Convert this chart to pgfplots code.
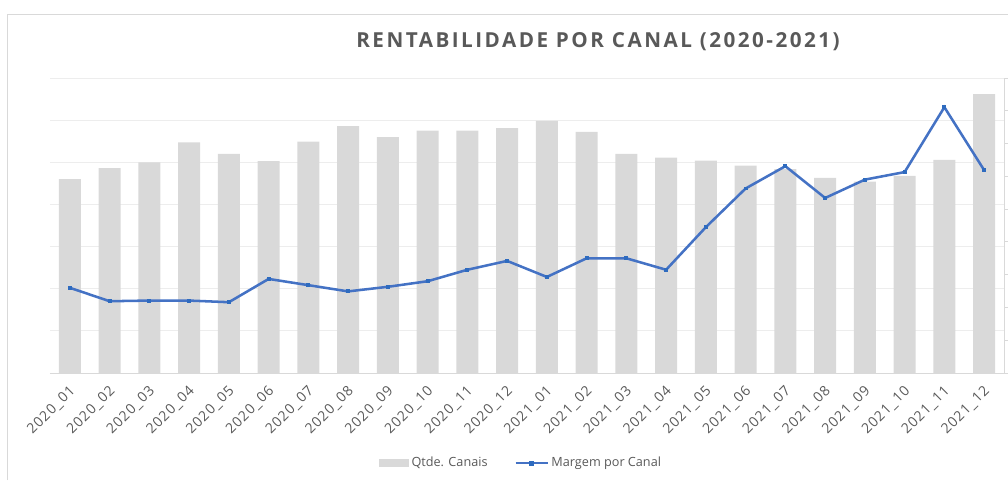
\documentclass[border=0pt]{standalone}
\usepackage{pgfplots}
\pgfplotsset{compat=1.18}
\usepackage{fontspec}
\setmainfont{Open Sans}
\newfontfamily\titlefont[LetterSpace=12]{Open Sans}
\newfontfamily\tickfont[LetterSpace=8]{Open Sans}
\definecolor{barc}{HTML}{D9D9D9}
\definecolor{linec}{HTML}{4472C4}
\definecolor{markc}{HTML}{2E6BBF}
\definecolor{gridc}{HTML}{EDEDED}
\definecolor{txt}{HTML}{595959}
\begin{document}
\begin{tikzpicture}[x=0.75pt,y=0.75pt]
\useasboundingbox (0,0) rectangle (1008,480);
\draw[barc, line width=0.75pt] (7,0) -- (7,466) -- (1008,466);
\coordinate (O) at (50,107);
\node[font=\titlefont\bfseries\fontsize{15.5}{18}\selectfont, text=txt] at (598,438) {RENTABILIDADE POR CANAL (2020-2021)};
\begin{axis}[at={(O)}, anchor=south west, scale only axis,
  width=715.5pt, height=221.25pt,
  xmin=-0.5, xmax=23.5, ymin=0, ymax=70,
  ytick={0,10,...,70}, yticklabels={},
  ymajorgrids, grid style={gridc, line width=0.75pt},
  axis x line*=bottom, axis y line*=left,
  y axis line style={draw=none}, ytick style={draw=none},
  x axis line style={barc, line width=0.75pt, -},
  xtick={0,...,23}, xtick style={draw=none},
  xticklabels={2020\_01,2020\_02,2020\_03,2020\_04,2020\_05,2020\_06,2020\_07,2020\_08,2020\_09,2020\_10,2020\_11,2020\_12,2021\_01,2021\_02,2021\_03,2021\_04,2021\_05,2021\_06,2021\_07,2021\_08,2021\_09,2021\_10,2021\_11,2021\_12},
  x tick label style={yshift=-7pt, xshift=-1pt, rotate=45, anchor=north east, font=\tickfont\fontsize{10.5}{12}\selectfont, text=txt, inner sep=1pt},
  legend style={at={(0.494,-0.305)}, anchor=center, draw=none, fill=none, font=\fontsize{9.5}{11}\selectfont, text=txt, legend columns=2, /tikz/every even column/.append style={column sep=18pt}},
  legend cell align=left,
]
\addplot[ybar, bar width=16.5pt, fill=barc, draw=none,
  legend image code/.code={\fill[barc] (0pt,-3pt) rectangle (22.5pt,3pt);}]
coordinates {
(0,46.0) (1,48.6) (2,50.0) (3,54.7) (4,52.0) (5,50.3) (6,54.9) (7,58.6)
(8,56.0) (9,57.5) (10,57.5) (11,58.1) (12,59.8) (13,57.2) (14,52.0) (15,51.1)
(16,50.4) (17,49.2) (18,48.4) (19,46.3) (20,45.4) (21,46.8) (22,50.6) (23,66.2)
};
\addlegendentry{Qtde. Canais}
\addlegendimage{legend image code/.code={\draw[linec, line width=1.9pt] (0pt,0pt) -- (24pt,0pt); \fill[markc] (10.5pt,-1.5pt) rectangle (13.5pt,1.5pt);}}
\addlegendentry{Margem por Canal}
\end{axis}
\begin{axis}[at={(O)}, anchor=south west, scale only axis,
  width=715.5pt, height=221.25pt,
  xmin=-0.5, xmax=23.5, ymin=0, ymax=90,
  axis x line=none, axis y line*=right,
  ytick={0,10,...,90}, yticklabels={},
  y axis line style={barc, line width=0.75pt, -},
  ytick style={barc, line width=0.75pt}, tick align=outside, major tick length=3pt,
]
\addplot[linec, line width=1.9pt, mark=square*, mark size=1.1pt, mark options={fill=markc, draw=markc, line width=0pt}]
coordinates {
(0,26.0) (1,21.9) (2,22.1) (3,22.1) (4,21.6) (5,28.7) (6,26.8) (7,24.9)
(8,26.3) (9,28.0) (10,31.5) (11,34.2) (12,29.3) (13,35.0) (14,35.0) (15,31.5)
(16,44.5) (17,56.3) (18,63.1) (19,53.4) (20,59.0) (21,61.3) (22,81.1) (23,61.9)
};
\end{axis}
\end{tikzpicture}
\end{document}
